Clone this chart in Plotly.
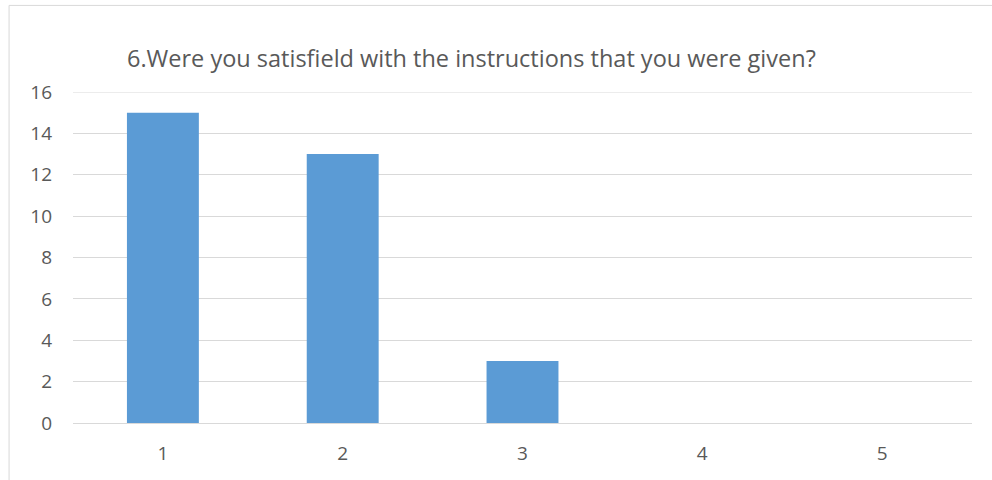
import plotly.graph_objects as go

categories = [1, 2, 3, 4, 5]
values = [15, 13, 3, 0, 0]
y_ticks = [0, 2, 4, 6, 8, 10, 12, 14, 16]
title_text = "6.Were you satisfield with the instructions that you were given?"

W, H = 992, 480
L, R, T, B = 72.5, 992 - 972.5, 92, 480 - 422.7
pw, ph = W - L - R, H - T - B

fig = go.Figure(go.Bar(x=categories, y=values, marker=dict(color="#5b9bd5", line=dict(width=0))))

fig.update_layout(
    width=W, height=H,
    margin=dict(l=L, r=R, t=T, b=B, pad=0, autoexpand=False),
    paper_bgcolor="white", plot_bgcolor="white",
    bargap=0.6,
    showlegend=False,
    font=dict(family="Open Sans", color="#595959"),
    title=dict(text=title_text, xref="container", yref="container",
               x=127 / W, xanchor="left", y=1 - 59 / H, yanchor="middle",
               font=dict(size=23.5, color="#595959", family="Open Sans")),
    xaxis=dict(range=[0.5, 5.5], tickvals=categories, ticktext=[str(c) for c in categories],
               showgrid=False, zeroline=False, showline=False, ticks="",
               tickfont=dict(size=19, color="#595959"), ticklabelstandoff=17),
    yaxis=dict(range=[0, 16], tickvals=y_ticks, showgrid=True, gridcolor="#d9d9d9", gridwidth=1,
               zeroline=True, zerolinecolor="#d9d9d9", zerolinewidth=1, showline=False, ticks="",
               tickfont=dict(size=19, color="#595959"), ticklabelstandoff=20),
    shapes=[
        dict(type="rect", xref="paper", yref="paper",
             x0=(8.5 - L) / pw, x1=(1010 - L) / pw,
             y0=(H - B - 490) / ph, y1=(H - B - 5.5) / ph,
             line=dict(color="#d9d9d9", width=1), fillcolor="rgba(0,0,0,0)", layer="below"),
        dict(type="line", xref="paper", yref="y", x0=0, x1=1, y0=y_ticks[-1], y1=y_ticks[-1],
             line=dict(color="#d9d9d9", width=1), layer="below"),
    ],
)

fig.write_html("out.html", config={"displayModeBar": False},
               post_script="document.body.style.margin='0';document.body.style.overflow='hidden';")
